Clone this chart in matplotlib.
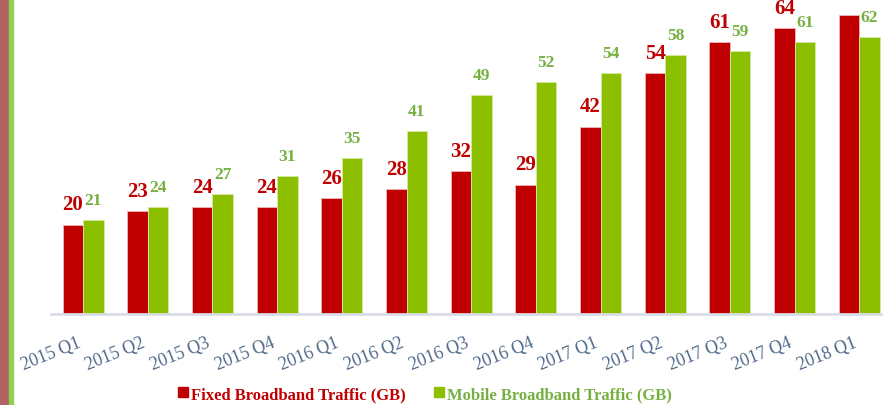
import numpy as np
import matplotlib.pyplot as plt
from matplotlib.patches import Rectangle
from matplotlib.lines import Line2D

quarters = ["2015 Q1", "2015 Q2", "2015 Q3", "2015 Q4",
            "2016 Q1", "2016 Q2", "2016 Q3", "2016 Q4",
            "2017 Q1", "2017 Q2", "2017 Q3", "2017 Q4", "2018 Q1"]
fixed_gb = [20, 23, 24, 24, 26, 28, 32, 29, 42, 54, 61, 64, 67]
mobile_gb = [21, 24, 27, 31, 35, 41, 49, 52, 54, 58, 59, 61, 62]

RED = "#C00000"
GREEN = "#8CBF00"
GREEN_TXT = "#76B041"
SERIF = "Liberation Serif"
Y_TOP = 70.6  # chart is cropped at the top edge

fig = plt.figure(figsize=(8.83, 4.06), dpi=100)

# left side stripes
fig.patches.append(Rectangle((0, 0), 9 / 883, 1, transform=fig.transFigure,
                             color="#B06464", zorder=0))
fig.patches.append(Rectangle((9 / 883, 0), 3.5 / 883, 1, transform=fig.transFigure,
                             color="#92D050", zorder=0))

ax = fig.add_axes([50.7 / 883, 91 / 406, 841 / 883, 315 / 406])
ax.patch.set_alpha(0)

x = np.arange(len(quarters))
w = 0.317

b1 = ax.bar(x - w / 2, fixed_gb, w, color=RED, edgecolor="#F2B8B8", linewidth=0.6)
b2 = ax.bar(x + w / 2, mobile_gb, w, color=GREEN, edgecolor="#D4EBA0", linewidth=0.6)

for rect, v in zip(b1, fixed_gb):
    # labels that would sit above the cropped top are not visible in the original
    if v > Y_TOP - 5:
        continue
    ax.annotate(str(v), (rect.get_x() + rect.get_width() / 2, v),
                xytext=(0, 11), textcoords="offset points",
                ha="center", va="baseline", fontsize=15, fontweight="bold",
                family=SERIF, color=RED, annotation_clip=False)

for rect, v in zip(b2, mobile_gb):
    ax.annotate(str(v), (rect.get_x() + rect.get_width() / 2, v),
                xytext=(0, 11.5), textcoords="offset points",
                ha="center", va="baseline", fontsize=12.5, fontweight="bold",
                family=SERIF, color=GREEN_TXT, annotation_clip=False)

ax.set_xlim(-0.5, len(quarters) - 0.5)
ax.set_ylim(0, Y_TOP)

ax.set_xticks(x)
ax.set_xticklabels(quarters, rotation=22, ha="right", family=SERIF,
                   fontsize=13, color="#50688A")
ax.tick_params(axis="x", length=0, pad=14)
ax.set_yticks([])

for s in ["top", "right", "left"]:
    ax.spines[s].set_visible(False)
ax.spines["bottom"].set_color("#D9DDE6")
ax.spines["bottom"].set_linewidth(2)

handles = [Line2D([], [], marker="s", linestyle="none", color=RED, markersize=7),
           Line2D([], [], marker="s", linestyle="none", color=GREEN, markersize=7)]
leg = fig.legend(handles, ["Fixed Broadband Traffic (GB)", "Mobile Broadband Traffic (GB)"],
                 loc="center", bbox_to_anchor=(424 / 883, 11 / 406), ncol=2,
                 frameon=False, handletextpad=0.1, handlelength=0.8,
                 columnspacing=1.6, prop={"family": SERIF, "weight": "bold", "size": 12})
for t, c in zip(leg.get_texts(), [RED, GREEN_TXT]):
    t.set_color(c)

fig.savefig("out.png", dpi=100)
